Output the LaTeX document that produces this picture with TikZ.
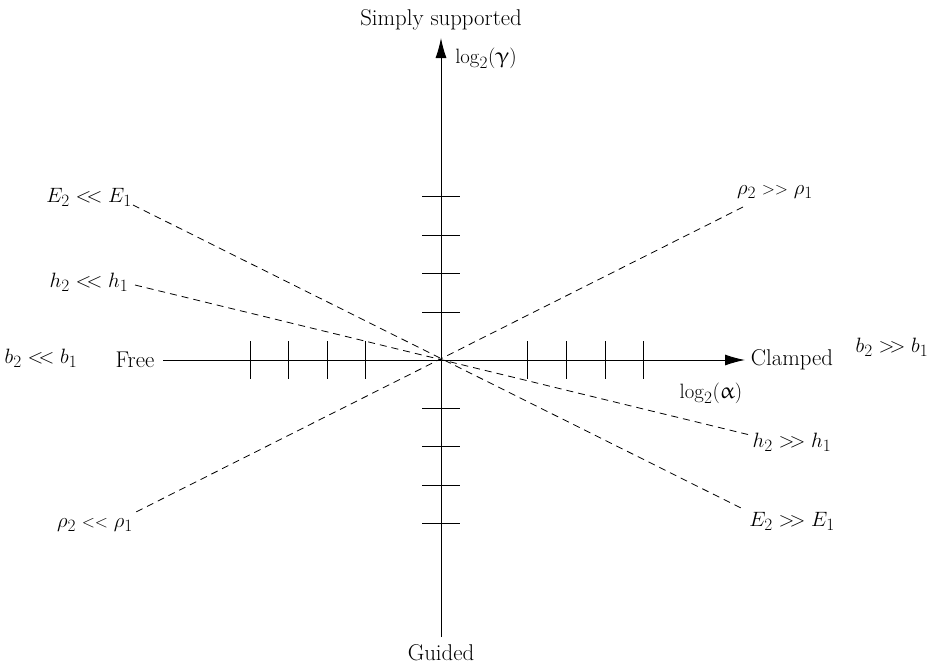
\documentclass[tikz,border=0pt]{standalone}
\usepackage{upgreek}
\usetikzlibrary{arrows.meta}
\newcommand{\llt}{\mathrel{<\mkern-4mu<}}
\newcommand{\ggt}{\mathrel{>\mkern-4mu>}}
\begin{document}
\begin{tikzpicture}[x=1pt,y=-1pt,
  font=\fontsize{22.8}{27}\selectfont,
  axis/.style={line width=0.95pt,-{Latex[length=20pt,width=11pt]}},
  tickmark/.style={line width=0.95pt},
  dline/.style={line width=0.8pt,dash pattern=on 7pt off 5pt},
  lbl/.style={inner sep=0pt,anchor=center}]
\useasboundingbox (0,0) rectangle (930,667);
\coordinate (O) at (441,360);
\coordinate (vb) at (441,637);
\coordinate (vt) at (441,38);
\coordinate (hl) at (163,360);
\coordinate (hr) at (745,360);
\draw[axis] (vb) -- (vt);
\draw[axis] (hl) -- (hr);
\foreach \y in {196.5,235,273.5,312,408,446.5,485,523.5}
  \draw[tickmark] (422,\y) -- (460,\y);
\foreach \x in {250,288,327,365,527,566,605,643}
  \draw[tickmark] (\x,341) -- (\x,379);
% dashed lines
\coordinate (e1) at (133,205);
\coordinate (e2) at (745,510);
\coordinate (h1) at (135,285);
\coordinate (h2) at (750,435);
\coordinate (r1) at (743,207);
\coordinate (r2) at (136,512);
\draw[dline] (e1) -- (e2);
\draw[dline] (h1) -- (h2);
\draw[dline] (r1) -- (r2);
% labels
\node[lbl] (sup) at (441,20) {Simply supported};
\node[lbl] (lgg) at (486,58) {$\log_2(\upgamma)$};
\node[lbl] (gui) at (441,653) {Guided};
\node[lbl] (lga) at (711,393) {$\log_2(\upalpha)$};
\node[lbl] (fre) at (135,360) {Free};
\node[lbl] (cla) at (792,360) {Clamped};
\node[lbl] (bgt) at (892,347) {$b_2 \ggt b_1$};
\node[lbl] (blt) at (41,358) {$b_2 \llt b_1$};
\node[lbl] (elt) at (89,197) {$E_2 \llt E_1$};
\node[lbl] (hlt) at (89,282) {$h_2 \llt h_1$};
\node[lbl] (rgt) at (775,192) {$\rho_2 \mathrel{\scriptstyle >>} \rho_1$};
\node[lbl] (rlt) at (95,525) {$\rho_2 \mathrel{\scriptstyle <<} \rho_1$};
\node[lbl] (hgt) at (792,442) {$h_2 \ggt h_1$};
\node[lbl] (egt) at (792,521) {$E_2 \ggt E_1$};
\end{tikzpicture}
\end{document}
